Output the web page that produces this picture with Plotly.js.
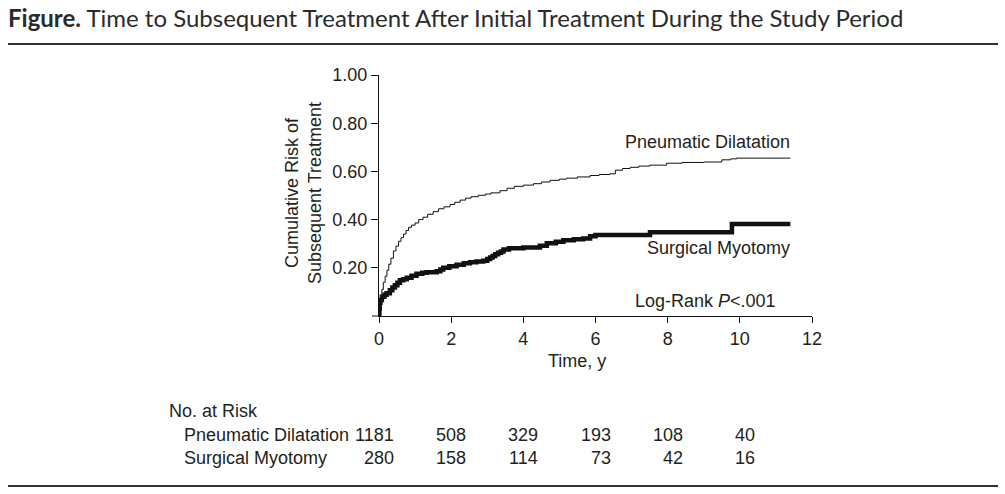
<!DOCTYPE html>
<html>
<head>
<meta charset="utf-8">
<script src="https://cdn.plot.ly/plotly-3.0.1.min.js"></script>
<style>
  html, body { margin: 0; padding: 0; background: #ffffff; }
  #chart { width: 1005px; height: 494px; }
</style>
</head>
<body>
<div id="chart"></div>
<script>
// Kaplan-Meier style cumulative risk of subsequent treatment (years, risk)
const pdTime = [0, 0.02, 0.05, 0.08, 0.12, 0.17, 0.22, 0.27, 0.33, 0.40, 0.47, 0.54, 0.61, 0.68, 0.75, 0.82, 0.90,
  1.00, 1.10, 1.22, 1.35, 1.50, 1.65, 1.80, 1.97, 2.10, 2.25, 2.40, 2.55, 2.75, 2.95, 3.10, 3.35, 3.55, 3.75,
  4.00, 4.28, 4.50, 4.74, 5.00, 5.20, 5.50, 5.85, 6.10, 6.40, 6.55, 6.75, 6.96, 7.20, 7.50, 7.97, 8.40, 9.00,
  9.50, 9.75, 9.91, 11.40];
const pdRisk = [0, 0.04, 0.08, 0.11, 0.14, 0.165, 0.19, 0.215, 0.24, 0.27, 0.29, 0.31, 0.325, 0.34, 0.355, 0.368, 0.377,
  0.386, 0.400, 0.410, 0.422, 0.433, 0.445, 0.453, 0.463, 0.472, 0.481, 0.489, 0.495, 0.501, 0.506, 0.511, 0.520, 0.530, 0.538,
  0.543, 0.549, 0.556, 0.563, 0.568, 0.572, 0.577, 0.583, 0.587, 0.590, 0.605, 0.612, 0.617, 0.622, 0.626, 0.634, 0.637, 0.639,
  0.648, 0.652, 0.655, 0.655];

const smTime = [0, 0.01, 0.02, 0.04, 0.08, 0.15, 0.21, 0.30, 0.37, 0.44, 0.51, 0.58, 0.67, 0.77, 0.90, 1.04, 1.20,
  1.32, 1.60, 1.70, 1.78, 1.95, 2.15, 2.35, 2.52, 2.70, 2.89, 3.00, 3.08, 3.15, 3.22, 3.30, 3.38, 3.45, 3.60, 4.00, 4.46, 4.65,
  4.90, 5.11, 5.40, 5.66, 5.85, 6.00, 7.51, 9.78, 11.40];
const smRisk = [0, 0.03, 0.055, 0.066, 0.08, 0.088, 0.094, 0.107, 0.118, 0.128, 0.138, 0.148, 0.153, 0.159, 0.167, 0.175, 0.179,
  0.182, 0.186, 0.193, 0.200, 0.206, 0.213, 0.219, 0.223, 0.226, 0.229, 0.236, 0.243, 0.249, 0.256, 0.262, 0.268, 0.276, 0.281, 0.284, 0.291, 0.302,
  0.308, 0.314, 0.318, 0.322, 0.331, 0.336, 0.348, 0.382, 0.382];

// Number at risk table
const riskTimes = [0, 2, 4, 6, 8, 10];
const pdAtRisk = [1181, 508, 329, 193, 108, 40];
const smAtRisk = [280, 158, 114, 73, 42, 16];
const groupNames = ['Pneumatic Dilatation', 'Surgical Myotomy'];

// Axis ticks
const xTicks = [0, 2, 4, 6, 8, 10, 12];
const yTicks = [0.2, 0.4, 0.6, 0.8, 1.0];
const yTickText = ['0.20', '0.40', '0.60', '0.80', '1.00'];

const W = 1005, H = 494;
const M = { l: 379, r: 193, t: 75, b: 178 };
const plotW = W - M.l - M.r, plotH = H - M.t - M.b;
// convert page pixels to paper fractions
const px = p => (p - M.l) / plotW;
const py = p => (H - M.b - p) / plotH;

const ink = '#231f20';
const sans = 'Liberation Sans, Arial, Helvetica, sans-serif';
const txt = (size) => ({ family: sans, size: size, color: ink });
const FS = 18;

const traces = [
  { x: pdTime, y: pdRisk, type: 'scatter', mode: 'lines', line: { shape: 'hv', color: '#111', width: 1 },
    name: groupNames[0], hoverinfo: 'skip', cliponaxis: false },
  { x: smTime, y: smRisk, type: 'scatter', mode: 'lines', line: { shape: 'hv', color: '#111', width: 4.5 },
    name: groupNames[1], hoverinfo: 'skip', cliponaxis: false }
];

const annotations = [
  { xref: 'paper', yref: 'paper', x: px(6), y: py(18), xanchor: 'left', yanchor: 'middle', showarrow: false,
    text: '<b>Figure.</b> Time to Subsequent Treatment After Initial Treatment During the Study Period',
    font: { family: 'Lato, Open Sans, sans-serif', size: 24, color: '#2b2b2b' } },
  { xref: 'paper', yref: 'paper', x: px(303), y: py(193), xanchor: 'center', yanchor: 'middle', showarrow: false,
    textangle: -90, text: 'Cumulative Risk of<br>Subsequent Treatment', font: txt(FS) },
  { xref: 'paper', yref: 'paper', x: px(577), y: py(361), xanchor: 'center', yanchor: 'middle', showarrow: false,
    text: 'Time, y', font: txt(FS) },
  { xref: 'paper', yref: 'paper', x: px(792), y: py(142), xanchor: 'right', yanchor: 'middle', showarrow: false,
    text: groupNames[0], font: txt(FS) },
  { xref: 'paper', yref: 'paper', x: px(792), y: py(248), xanchor: 'right', yanchor: 'middle', showarrow: false,
    text: groupNames[1], font: txt(FS) },
  { xref: 'paper', yref: 'paper', x: px(778), y: py(301), xanchor: 'right', yanchor: 'middle', showarrow: false,
    text: 'Log-Rank <i>P</i>&lt;.001', font: txt(FS) },
  { xref: 'paper', yref: 'paper', x: px(167), y: py(411), xanchor: 'left', yanchor: 'middle', showarrow: false,
    text: 'No. at Risk', font: txt(FS) },
  { xref: 'paper', yref: 'paper', x: px(182), y: py(435), xanchor: 'left', yanchor: 'middle', showarrow: false,
    text: groupNames[0], font: txt(FS) },
  { xref: 'paper', yref: 'paper', x: px(182), y: py(458), xanchor: 'left', yanchor: 'middle', showarrow: false,
    text: groupNames[1], font: txt(FS) }
];

riskTimes.forEach((t, i) => {
  annotations.push({ xref: 'x', yref: 'paper', x: t, xshift: 17, y: py(435), xanchor: 'right', yanchor: 'middle',
    showarrow: false, text: String(pdAtRisk[i]), font: txt(FS) });
  annotations.push({ xref: 'x', yref: 'paper', x: t, xshift: 17, y: py(458), xanchor: 'right', yanchor: 'middle',
    showarrow: false, text: String(smAtRisk[i]), font: txt(FS) });
});

const shapes = [
  // rules above and below the figure
  { type: 'line', xref: 'paper', yref: 'paper', x0: px(8), x1: px(998), y0: py(44), y1: py(44),
    line: { color: '#333', width: 2 } },
  { type: 'line', xref: 'paper', yref: 'paper', x0: px(8), x1: px(998), y0: py(486), y1: py(486),
    line: { color: '#333', width: 2 } },
  // short extension of the time axis to the left of the origin
  { type: 'line', xref: 'paper', yref: 'paper', x0: px(372), x1: 0, y0: 0, y1: 0,
    line: { color: '#111', width: 1 } }
];

const layout = {
  width: W, height: H,
  margin: M,
  paper_bgcolor: '#ffffff', plot_bgcolor: '#ffffff',
  showlegend: false,
  xaxis: {
    range: [0, 12], tickvals: xTicks, ticktext: xTicks.map(String),
    showgrid: false, zeroline: false, showline: true, linecolor: '#111', linewidth: 1,
    ticks: 'outside', ticklen: 6, tickcolor: '#111', tickwidth: 1,
    tickfont: txt(FS), fixedrange: true
  },
  yaxis: {
    range: [0, 1], tickvals: yTicks, ticktext: yTickText,
    showgrid: false, zeroline: false, showline: true, linecolor: '#111', linewidth: 1,
    ticks: 'outside', ticklen: 7, tickcolor: '#111', tickwidth: 1,
    tickfont: txt(FS), fixedrange: true
  },
  annotations: annotations,
  shapes: shapes
};

Plotly.newPlot('chart', traces, layout, { staticPlot: true, displayModeBar: false });
</script>
</body>
</html>
